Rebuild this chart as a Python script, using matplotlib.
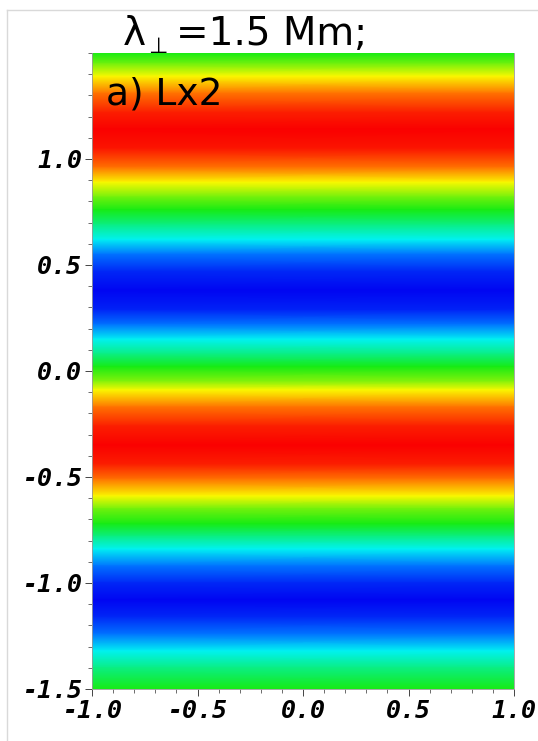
import numpy as np
import matplotlib
matplotlib.use('Agg')
import matplotlib.pyplot as plt
from matplotlib.colors import LinearSegmentedColormap
from matplotlib.ticker import MultipleLocator, FormatStrFormatter
from matplotlib.lines import Line2D

# field profile across the slab (normalised 0..1), constant along x
y_prof = [1.50, 1.45, 1.39, 1.31, 1.22, 1.14, 1.05, 0.96, 0.89, 0.82,
          0.76, 0.69, 0.62, 0.55, 0.47, 0.38, 0.29, 0.22, 0.15, 0.08,
          0.02, -0.05, -0.09, -0.17, -0.26, -0.35, -0.44, -0.51, -0.59, -0.65,
          -0.72, -0.78, -0.84, -0.92, -1.00, -1.08, -1.16, -1.24, -1.32, -1.40,
          -1.50]
v_prof = [0.50, 0.58, 0.70, 0.85, 0.96, 1.00, 0.97, 0.85, 0.70, 0.58,
          0.50, 0.40, 0.30, 0.15, 0.05, 0.00, 0.04, 0.15, 0.30, 0.40,
          0.50, 0.60, 0.70, 0.85, 0.96, 1.00, 0.96, 0.85, 0.70, 0.58,
          0.50, 0.40, 0.30, 0.15, 0.05, 0.00, 0.05, 0.15, 0.30, 0.40,
          0.50]
x_edges = [-1.0, 1.0]
xticks = [-1.0, -0.5, 0.0, 0.5, 1.0]
yticks = [-1.5, -1.0, -0.5, 0.0, 0.5, 1.0]

cmap = LinearSegmentedColormap.from_list('rainbow_br', [
    (0.00, (0.00, 0.02, 0.95)),
    (0.15, (0.00, 0.45, 1.00)),
    (0.30, (0.00, 0.95, 0.95)),
    (0.50, (0.08, 0.92, 0.08)),
    (0.70, (0.98, 0.98, 0.00)),
    (0.85, (1.00, 0.45, 0.00)),
    (1.00, (0.98, 0.00, 0.00)),
])

W, H = 538, 741
fig = plt.figure(figsize=(W / 100, H / 100), dpi=100)
ax = fig.add_axes([92 / W, 1 - 689 / H, (514 - 92) / W, (689 - 53) / H])

yy = np.array(y_prof)
C = np.tile(np.array(v_prof)[:, None], (1, 2))
X, Y = np.meshgrid(x_edges, yy)
ax.pcolormesh(X, Y, C, shading='gouraud', cmap=cmap, vmin=0, vmax=1)
ax.set_xlim(-1.0, 1.0)
ax.set_ylim(-1.5, 1.5)

ax.set_xticks(xticks)
ax.set_yticks(yticks)
ax.xaxis.set_minor_locator(MultipleLocator(0.1))
ax.yaxis.set_minor_locator(MultipleLocator(0.1))
ax.xaxis.set_major_formatter(FormatStrFormatter('%.1f'))
ax.yaxis.set_major_formatter(FormatStrFormatter('%.1f'))
ax.tick_params(which='major', length=5, width=0.7, color='#444444', pad=2)
ax.tick_params(which='minor', length=3, width=0.6, color='#555555')
for lab in ax.get_xticklabels() + ax.get_yticklabels():
    lab.set_fontfamily('DejaVu Sans Mono')
    lab.set_fontweight('bold')
    lab.set_fontstyle('oblique')
    lab.set_fontsize(18)
for s in ax.spines.values():
    s.set_color('#999999')
    s.set_linewidth(0.6)
ax.spines['top'].set_visible(False)

# heading: lambda with perpendicular subscript
fig.text(123 / W, 1 - 45 / H, 'λ', fontsize=28, family='DejaVu Sans',
         va='baseline', ha='left')
fig.text(148 / W, 1 - 53 / H, '⊥', fontsize=16, family='DejaVu Sans',
         va='baseline', ha='left')
fig.text(176 / W, 1 - 45 / H, '=1.5 Mm;', fontsize=28, family='DejaVu Sans',
         va='baseline', ha='left')

fig.text(106 / W, 1 - 104 / H, 'a) Lx2', fontsize=27, family='DejaVu Sans',
         va='baseline', ha='left', color='black')

# thin frame along top and left edges
fig.add_artist(Line2D([7 / W, 1], [1 - 10 / H, 1 - 10 / H], color='#d9d9d9', lw=1))
fig.add_artist(Line2D([7 / W, 7 / W], [0, 1 - 10 / H], color='#d9d9d9', lw=1))

fig.savefig('out.png', dpi=100)
